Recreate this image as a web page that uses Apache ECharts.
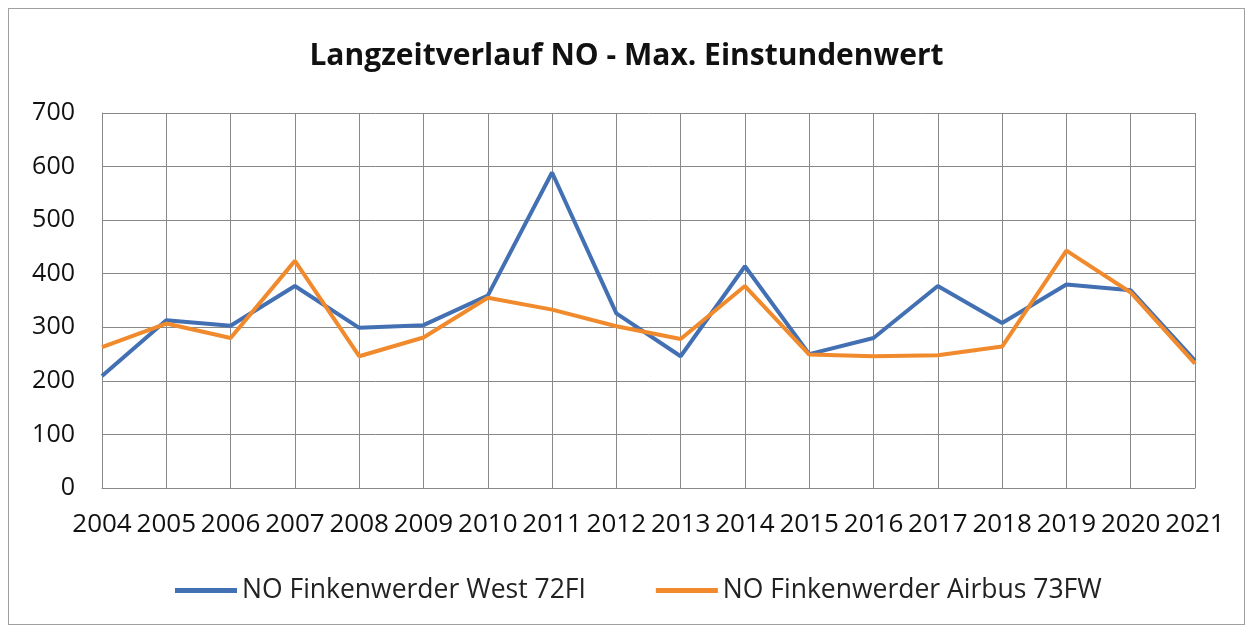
<!DOCTYPE html>
<html lang="de">
<head>
    <meta charset="UTF-8">
    <title>Langzeitverlauf NO</title>
    <style>
      html, body { margin: 0; padding: 0; background: #fff; }
      #frame { position: absolute; left: 8px; top: 8px; width: 1235px; height: 615px; border: 1px solid #a0a0a0; }
      #main { position: absolute; left: 0; top: 0; width: 1253px; height: 633px; }
    </style>
</head>
<body>
  <div id="frame"></div>
  <div id="main"></div>
  <script src="https://cdn.jsdelivr.net/npm/echarts@6/dist/echarts.min.js"></script>
  <script>
    // Jahre und Messwerte (Max. Einstundenwert NO)
    var years = ['2004','2005','2006','2007','2008','2009','2010','2011','2012','2013',
                 '2014','2015','2016','2017','2018','2019','2020','2021'];
    var west72FI = [209, 313, 303, 377, 299, 304, 359, 589, 326, 246,
                    414, 250, 280, 377, 308, 380, 369, 238];
    var airbus73FW = [263, 307, 280, 424, 246, 281, 355, 333, 302, 278,
                      377, 249, 246, 248, 264, 443, 365, 232];
    var seriesNames = ['NO Finkenwerder West 72FI', 'NO Finkenwerder Airbus 73FW'];

    var font = 'Open Sans';
    var myChart = echarts.init(document.getElementById('main'));
    var option = {
        animation: false,
        color: ['#4270b3', '#f08a2c'],
        title: {
            text: 'Langzeitverlauf NO - Max. Einstundenwert',
            left: 'center',
            top: 36,
            textStyle: { fontFamily: font, fontSize: 30, fontWeight: 'bold', color: '#111' }
        },
        legend: {
            data: seriesNames,
            bottom: 24,
            left: 170,
            icon: 'rect',
            itemWidth: 62,
            itemHeight: 5,
            itemGap: 70,
            textStyle: { fontFamily: font, fontSize: 26.5, color: '#222' }
        },
        grid: {
            left: 102,
            right: 58,
            top: 113,
            bottom: 145
        },
        xAxis: {
            type: 'category',
            data: years,
            boundaryGap: false,
            axisLine: { lineStyle: { color: '#888', width: 1 } },
            axisTick: { show: false },
            axisLabel: { fontFamily: font, fontSize: 26, color: '#111', margin: 24, interval: 0 },
            splitLine: { show: true, lineStyle: { color: '#888', width: 1 } }
        },
        yAxis: {
            type: 'value',
            min: 0,
            max: 700,
            interval: 100,
            axisLine: { show: true, lineStyle: { color: '#888', width: 1 } },
            axisTick: { show: false },
            axisLabel: { fontFamily: font, fontSize: 25, color: '#111', margin: 27 },
            splitLine: { lineStyle: { color: '#888', width: 1 } }
        },
        series: [
            {
                name: seriesNames[0],
                type: 'line',
                data: west72FI,
                showSymbol: false,
                lineStyle: { width: 4 }
            },
            {
                name: seriesNames[1],
                type: 'line',
                data: airbus73FW,
                showSymbol: false,
                lineStyle: { width: 4 }
            }
        ]
    };
    myChart.setOption(option);
  </script>
</body>
</html>
